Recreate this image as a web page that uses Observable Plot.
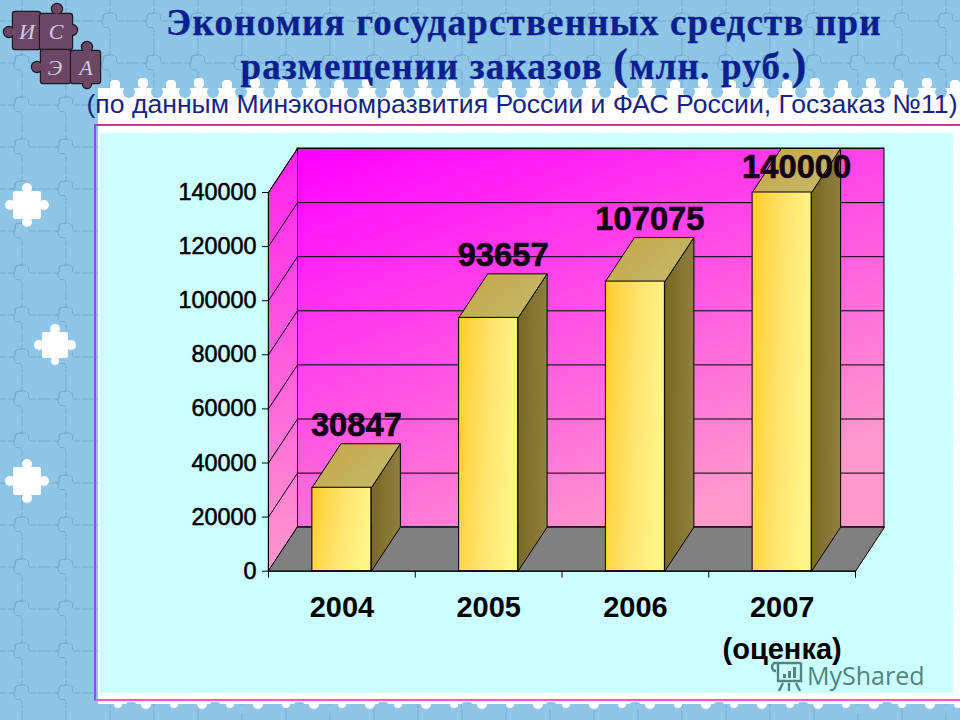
<!DOCTYPE html>
<html lang="ru">
<head>
<meta charset="utf-8">
<script src="https://cdn.jsdelivr.net/npm/d3@7"></script>
<script src="https://cdn.jsdelivr.net/npm/@observablehq/plot@0.6"></script>
<style>
  html, body { margin: 0; padding: 0; }
  body { width: 960px; height: 720px; overflow: hidden; position: relative; background: #8fc5e7; }
  #bg { position: absolute; inset: 0; }
  #panel { position: absolute; left: 100px; top: 133px; width: 853px; height: 560px; background: #ccffff; }
  #frame { position: absolute; left: 94px; top: 124px; width: 900px; height: 577px; box-sizing: border-box;
           border-top: 2px solid #d0339c; border-bottom: 2px solid #ff55cc; border-left: 2px solid #8a4fe6; }
  header { position: relative; height: 125px; text-align: center; color: #0b1f8f; width: 960px; }
  header div { position: absolute; white-space: nowrap; left: 524px; transform: translateX(-50%); }
  .t1 { font: bold 37px/40px "Liberation Serif", serif; letter-spacing: 1.2px; -webkit-text-stroke: 0.3px #0b1f8f; }
  .t1 b { font-size: 44px; line-height: 30px; }
  .t3 { font: 26.6px/28px "Liberation Sans", sans-serif; color: #17257f; }
  #chart { position: relative; z-index: 1; width: 960px; height: 595px; }
  #chart [aria-label="y-axis tick label"] { font-weight: 400; stroke: #000; stroke-width: 0.55; }
  .logo { position: absolute; z-index: 2; font: italic 22px/24px "Liberation Serif", serif; color: #cdcde6;
          transform: translate(-50%, -50%); }
  #mark { position: absolute; z-index: 3; left: 807px; top: 663px; font: 25px/25px "Open Sans", sans-serif; color: #4f8580; }
  #icon { position: absolute; z-index: 3; left: 769px; top: 659px; width: 34px; height: 33px; }
</style>
</head>
<body>
<div id="bg"></div>
<div id="panel"></div>
<div id="frame"></div>
<header>
  <div class="t1" style="top:3px">Экономия государственных средств при</div>
  <div class="t1" style="top:47px">размещении заказов <b>(</b>млн. руб.<b>)</b></div>
  <div class="t3" style="top:90px;left:522px">(по данным Минэкономразвития России и ФАС России, Госзаказ №11)</div>
</header>
<span class="logo" style="left:27px;top:32px">И</span>
<span class="logo" style="left:56px;top:32px">С</span>
<span class="logo" style="left:55px;top:68px">Э</span>
<span class="logo" style="left:86px;top:68px">А</span>
<div id="chart"></div>
<div id="icon"></div>
<div id="mark">MyShared</div>
<script>
// ---------- chart values ----------
const categories = ["2004", "2005", "2006", "2007\n(оценка)"];
const values = [30847, 93657, 107075, 140000];
const yTicks = [0, 20000, 40000, 60000, 80000, 100000, 120000, 140000];

// ---------- page decoration (puzzle-piece slide background) ----------
function knobs(fill, stroke, rx, ry, rw, rh, list) {
  const shapes = `<rect x="${rx}" y="${ry}" width="${rw}" height="${rh}" rx="2"/>` +
    list.map(([cx, cy, r]) => `<circle cx="${cx}" cy="${cy}" r="${r}"/>`).join("");
  return (stroke ? `<g fill="${fill}" stroke="${stroke}" stroke-width="2.4">${shapes}</g>` : "") +
         `<g fill="${fill}">${shapes}</g>`;
}
function scallops() {
  let s = "";
  const step = 28;
  for (let x = 110, i = 0; x < 960; x += step, i++) {
    s += `<rect x="${x}" y="${i % 2 ? 78 : 80}" width="10" height="10" rx="4" fill="#fff"/>`;
    s += `<circle cx="${x + 19}" cy="92" r="6" fill="#8fc5e7"/>`;
    s += `<circle cx="${x + 8}" cy="704" r="${i % 2 ? 5 : 4}" fill="#fff"/>`;
    s += `<rect x="${x + 16}" y="${i % 3 ? 705 : 702}" width="10" height="8" rx="3" fill="#8fc5e7"/>`;
  }
  return s;
}
const svgBg = `<svg xmlns="http://www.w3.org/2000/svg" width="960" height="720">
<defs><pattern id="p" width="44" height="42" patternUnits="userSpaceOnUse">
<path d="M0,21 h15 c2,-3 -3,-8 7,-8 c10,0 5,5 7,8 h15" fill="none" stroke="#4f7f9f" stroke-width=".8" stroke-dasharray="7 1.2"/>
<path d="M22,0 v13 c-3,2 -8,-3 -8,8 c0,11 5,4 8,8 v13" fill="none" stroke="#4f7f9f" stroke-width=".8" stroke-dasharray="7 1.2"/>
</pattern></defs>
<rect width="960" height="720" fill="#8fc5e7"/>
<rect width="960" height="720" fill="url(#p)" opacity=".5"/>
<rect x="98" y="88" width="862" height="616" fill="#fff"/>
${scallops()}
<rect x="98" y="88" width="862" height="616" fill="url(#p)" opacity=".1"/>
${knobs("#fff", null, 13, 191, 28, 28, [[10,205,5],[44,205,5],[27,188,5],[27,222,5]])}
${knobs("#fff", null, 42, 332, 26, 26, [[39,345,5],[71,345,5],[55,329,5],[55,361,4]])}
${knobs("#fff", null, 13, 467, 28, 28, [[10,481,5],[44,481,5],[27,464,5],[27,498,5]])}
${knobs("#6b4765", "#1d1a20", 13, 12, 27, 37, [[9,32,5]])}
${knobs("#6b4765", "#1d1a20", 40, 14, 32, 35, [[57,9,5],[72,30,5]])}
${knobs("#6b4765", "#1d1a20", 41, 50, 29, 33, [[37,67,5]])}
${knobs("#6b4765", "#1d1a20", 71, 51, 29, 32, [[87,47,5],[87,84,4]])}
</svg>`;
document.getElementById("bg").style.background =
  `url("data:image/svg+xml,${encodeURIComponent(svgBg)}") no-repeat`;
const svgIcon = `<svg xmlns="http://www.w3.org/2000/svg" width="34" height="33">
<g fill="none" stroke="#4f8580" stroke-width="2.4">
<path d="M4,4 h28 M6,4 c-5,2 -3,8 1,8 M9,4 v18 h23 v-18 M14,24 l-4,8 M27,24 l4,8 M20,24 v8"/></g>
<g fill="#4f8580"><rect x="14" y="15" width="3" height="4"/><rect x="19" y="12" width="3" height="7"/><rect x="24" y="8" width="3" height="11"/></g>
</svg>`;
document.getElementById("icon").style.background =
  `url("data:image/svg+xml,${encodeURIComponent(svgIcon)}") no-repeat`;

// ---------- 3-D geometry in data units ----------
const depthX = 0.1976;     // depth of the box along x, in category widths
const depthY = 16266;      // depth of the box along y, in value units
const barWidth = 0.402;
const gapL = (1 - barWidth) / 2;
const topV = yTicks[yTicks.length - 1];
const labelLift = 6800, labelCap = 149230;

const bars = categories.map((c, i) => ({i, c, v: values[i], x1: i + gapL, x2: i + gapL + barWidth}));

const poly = pts => pts.map(([x, y]) => ({x, y}));
const sideFaces = bars.flatMap(b => poly([[b.x2, 0], [b.x2 + depthX, depthY], [b.x2 + depthX, b.v + depthY], [b.x2, b.v]]).map(p => ({...p, k: b.i})));
const topFaces = bars.flatMap(b => poly([[b.x1, b.v], [b.x2, b.v], [b.x2 + depthX, b.v + depthY], [b.x1 + depthX, b.v + depthY]]).map(p => ({...p, k: b.i})));
const wallLeft = poly([[0, 0], [depthX, depthY], [depthX, topV + depthY], [0, topV]]);
const floor = poly([[0, 0], [4, 0], [4 + depthX, depthY], [depthX, depthY]]);
const gridTicks = yTicks.slice(1);

function gradient(defs, id, x2, y2, stops) {
  const g = defs.append("linearGradient").attr("id", id)
    .attr("x1", 0).attr("y1", 0).attr("x2", x2).attr("y2", y2);
  stops.forEach(([o, c]) => g.append("stop").attr("offset", o).attr("stop-color", c));
}
const defsMark = () => {
  const svg = d3.create("svg:g");
  const defs = svg.append("defs");
  gradient(defs, "wall", 0.6, 1, [[0, "#ff00ff"], [1, "#ff99cc"]]);
  gradient(defs, "wallL", 0, 1, [[0, "#ff22ee"], [1, "#ff99cc"]]);
  gradient(defs, "front", 1, 0.22, [[0, "#ffcc2a"], [0.55, "#ffe46e"], [1, "#fff488"]]);
  gradient(defs, "side", 1, 0.1, [[0, "#786722"], [1, "#8f7f40"]]);
  gradient(defs, "top", 1, 0.6, [[0, "#c6a548"], [1, "#c4b868"]]);
  return svg.node();
};

const faceLine = (data, fill, extra = {}) => Plot.line(data, {
  x: "x", y: "y", curve: "linear-closed", fill, stroke: "#000", strokeWidth: 1, ...extra
});

const chart = Plot.plot({
  width: 960, height: 595,
  marginLeft: 268, marginRight: 105, marginTop: 67, marginBottom: 149.3,
  x: {domain: [0, 4], axis: null},
  y: {domain: [0, topV], axis: null},
  style: {background: "transparent", overflow: "visible"},
  marks: [
    defsMark,
    Plot.rect([0], {x1: depthX, x2: 4 + depthX, y1: depthY, y2: topV + depthY, fill: "url(#wall)", stroke: "#000", strokeWidth: 1}),
    faceLine(wallLeft, "url(#wallL)"),
    faceLine(floor, "#808080"),
    Plot.link(gridTicks, {x1: 0, y1: d => d, x2: depthX, y2: d => d + depthY, stroke: "#000", strokeWidth: 1}),
    Plot.ruleY(gridTicks, {x1: depthX, x2: 4 + depthX, y: d => d + depthY, stroke: "#000", strokeWidth: 1}),
    faceLine(sideFaces, "url(#side)", {z: "k"}),
    faceLine(topFaces, "url(#top)", {z: "k"}),
    Plot.rect(bars, {x1: "x1", x2: "x2", y1: 0, y2: "v", fill: "url(#front)", stroke: "#000", strokeWidth: 1}),
    Plot.ruleY([0], {x1: 0, x2: 4, stroke: "#000", strokeWidth: 1}),
    Plot.axisY({ticks: yTicks, tickSize: 6, tickPadding: 6, label: null, tickFormat: d => String(d),
      fontSize: 23.4, fontFamily: "Liberation Sans", stroke: "#000", color: "#000"}),
    Plot.axisX({ticks: [0, 1, 2, 3, 4], tickSize: 7, label: null, tickFormat: () => "", stroke: "#000"}),
    Plot.ruleX([0], {y1: 0, y2: topV, stroke: "#000", strokeWidth: 1}),
    Plot.text(bars, {x: d => d.i + 0.5, y: 0, text: "c", dy: 17, lineAnchor: "top", lineHeight: 1.42,
      fontSize: 29, fontWeight: 700, fontFamily: "Liberation Sans", fill: "#000", textAnchor: "middle"}),
    Plot.text(bars, {x: d => d.i + 0.5 + depthX / 2, y: d => Math.min(d.v + depthY + labelLift, labelCap),
      text: d => String(d.v), lineAnchor: "middle", fontSize: 32.7, fontWeight: 700,
      fontFamily: "Liberation Sans", fill: "#120014", stroke: "#120014", strokeWidth: 0.6, textAnchor: "middle"})
  ]
});
document.getElementById("chart").append(chart);
</script>
</body>
</html>
